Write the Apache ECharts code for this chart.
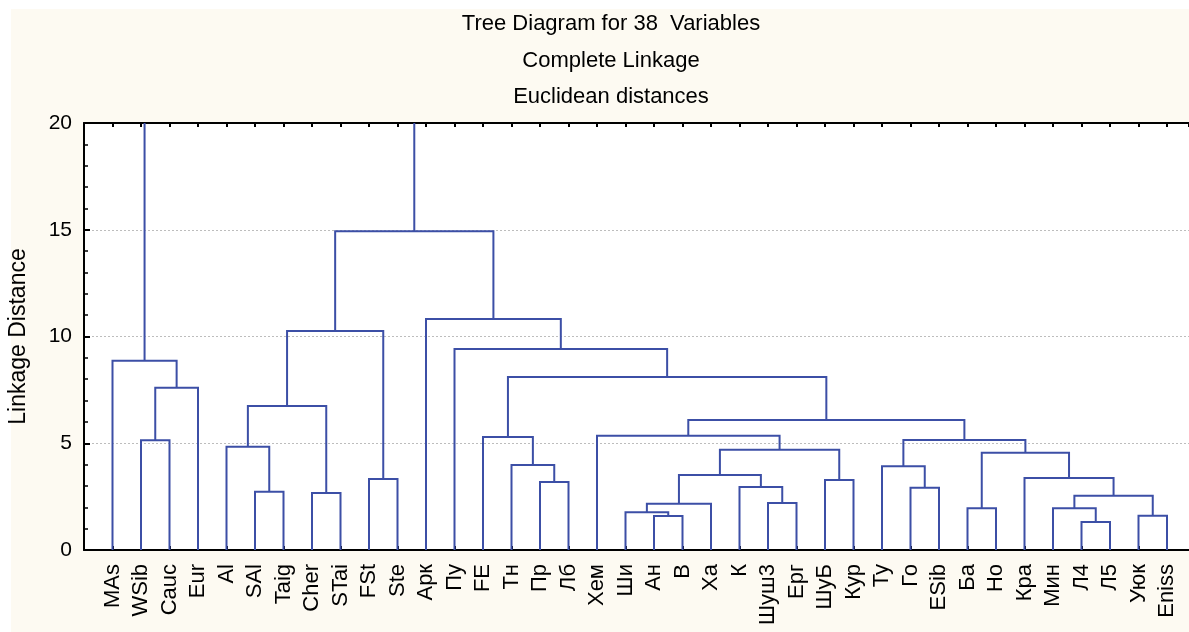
<!DOCTYPE html>
<html>
<head>
<meta charset="utf-8">
<script src="https://cdn.jsdelivr.net/npm/echarts@6/dist/echarts.min.js"></script>
<style>
html,body{margin:0;padding:0;background:#ffffff;}
#bg{position:absolute;left:11px;top:9px;width:1178px;height:623px;background:#fdfaf2;}
#chart{position:absolute;left:0;top:0;width:1189px;height:632px;}
</style>
</head>
<body>
<div id="bg"></div>
<div id="chart"></div>
<script>
// Leaf order along the x axis
const leaves = ['MAs','WSib','Cauc','Eur','Al','SAl','Taig','Cher','STai','FSt','Ste',
  'Арк','Пу','FE','Тн','Пр','Лб','Хем','Ши','Ан','В','Ха','К','Шуш3','Ерг','ШуБ','Кур',
  'Ту','Го','ESib','Ба','Но','Кра','Мин','Л4','Л5','Уюк','Eniss'];

// Merges: left node, right node ('#k' = k-th merge), linkage height
const mergeLeft  = ['WSib','#0','MAs','SAl','Al','Cher','#4','FSt','#6','Пр','Тн','FE',
  'Ан','Ши','#13','Шуш3','К','#14','ШуБ','#17','Хем','Го','Ту','Ба','Л4','Мин','Уюк','#25',
  'Кра','#23','#22','#20','#11','Пу','Арк','#8','#2'];
const mergeRight = ['Cauc','Eur','#1','Taig','#3','STai','#5','Ste','#7','Лб','#9','#10',
  'В','#12','Ха','Ерг','#15','#16','Кур','#18','#19','ESib','#21','Но','Л5','#24','Eniss','#26',
  '#27','#28','#29','#30','#31','#32','#33','#34','#35'];
const mergeHeight = [5.14,7.60,8.87,2.73,4.84,2.67,6.74,3.32,10.26,3.18,3.98,5.29,
  1.59,1.77,2.17,2.20,2.95,3.51,3.28,4.70,5.35,2.92,3.92,1.95,1.31,1.95,1.61,2.54,
  3.37,4.56,5.15,6.09,8.10,9.41,10.82,14.93,23];

const yTicks = [0,5,10,15,20];
const titleLines = ['Tree Diagram for 38  Variables','Complete Linkage','Euclidean distances'];

// Build segment data from the tree
const nodeX = [], nodeH = [];
function ref(r){
  if (r[0] === '#') { const k = +r.slice(1); return {x: nodeX[k], h: nodeH[k]}; }
  return {x: leaves.indexOf(r) + 1, h: 0};
}
const segData = [];
for (let k = 0; k < mergeHeight.length; k++) {
  const a = ref(mergeLeft[k]), b = ref(mergeRight[k]);
  nodeX[k] = (a.x + b.x) / 2; nodeH[k] = mergeHeight[k];
  segData.push([a.x, a.h, b.x, b.h, mergeHeight[k]]);
}

const FONT = '"Liberation Sans", Arial, sans-serif';
const chart = echarts.init(document.getElementById('chart'), null, {renderer:'canvas'});
const xMax = (1189 - 84) / 28.5;
const option = {
  animation: false,
  backgroundColor: 'transparent',
  title: titleLines.map((t, i) => ({
    text: t, left: 606, top: 8 + i * 36.5, textAlign: 'center',
    textStyle: {fontFamily: FONT, fontSize: 22, fontWeight: 'normal', color: '#000'}
  })),
  grid: {left: 84, top: 123, right: 0, bottom: 82, outerBoundsMode: 'none', containLabel: false,
         show: true, backgroundColor: '#ffffff', borderWidth: 0},
  xAxis: [{
    type: 'value', min: 0, max: xMax, interval: 1, position: 'bottom',
    axisLine: {show: true, onZero: false, lineStyle: {color: '#000', width: 2}},
    axisTick: {show: true, inside: true, length: 4, lineStyle: {color: '#000', width: 2}},
    splitLine: {show: false},
    axisLabel: {
      rotate: 90, margin: 14, fontFamily: FONT, fontSize: 22, color: '#000',
      showMinLabel: false, showMaxLabel: false,
      formatter: v => (v >= 1 && v <= leaves.length && Number.isInteger(v)) ? leaves[v - 1] : ''
    }
  }, {
    type: 'value', min: 0, max: xMax, interval: 1, position: 'top',
    axisLine: {show: true, onZero: false, lineStyle: {color: '#000', width: 2}},
    axisTick: {show: true, inside: true, length: 4, lineStyle: {color: '#000', width: 2}},
    splitLine: {show: false}, axisLabel: {show: false}
  }],
  yAxis: {
    type: 'value', min: yTicks[0], max: yTicks[yTicks.length - 1], interval: 5,
    name: 'Linkage Distance', nameLocation: 'middle', nameGap: 54, nameRotate: 90,
    nameTextStyle: {fontFamily: FONT, fontSize: 23, color: '#000'},
    axisLine: {show: true, lineStyle: {color: '#000', width: 2}},
    axisTick: {show: true, inside: true, length: 6, lineStyle: {color: '#000', width: 2}},
    minorTick: {show: true, splitNumber: 5, length: 4, lineStyle: {color: '#000', width: 1.5}},
    axisLabel: {margin: 12, fontFamily: FONT, fontSize: 21, color: '#000'},
    splitLine: {show: true, lineStyle: {color: '#bdbdbd', type: [2, 2], width: 1}}
  },
  series: [{
    type: 'custom', clip: true,
    data: segData,
    encode: {x: [0, 2], y: [1, 3, 4]},
    renderItem: function (params, api) {
      const p1 = api.coord([api.value(0), api.value(1)]);
      const p2 = api.coord([api.value(0), api.value(4)]);
      const p3 = api.coord([api.value(2), api.value(4)]);
      const p4 = api.coord([api.value(2), api.value(3)]);
      return {
        type: 'polyline',
        shape: {points: [p1, p2, p3, p4]},
        style: {stroke: '#3c4fa6', lineWidth: 2, fill: null}
      };
    }
  }]
};
chart.setOption(option);
</script>
</body>
</html>
